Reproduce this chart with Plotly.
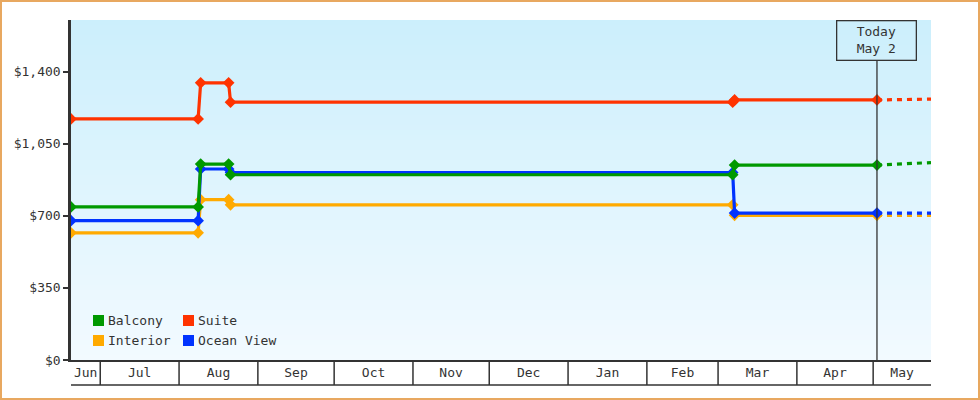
import pandas as pd
import plotly.graph_objects as go

# price history (cabin price per person)
dates = ["2024-06-19 12:00", "2024-08-08 12:00", "2024-08-09 12:00", "2024-08-20 12:00",
         "2024-08-21 06:00", "2025-03-06 18:00", "2025-03-07 12:00", "2025-05-02 12:00"]
balcony = [743, 743, 951, 951, 899, 899, 946, 946]
suite = [1170, 1170, 1345, 1345, 1251, 1251, 1262, 1262]
interior = [617, 617, 778, 778, 753, 753, 702, 702]
ocean_view = [676, 676, 927, 927, 910, 910, 713, 713]

# projected prices after today
proj_dates = ["2025-05-02 12:00", "2025-05-23 18:00"]
balcony_proj = [946, 958]
suite_proj = [1262, 1266]
interior_proj = [702, 702]
ocean_view_proj = [713, 713]

today = "2025-05-02 12:00"
today_label = "Today<br>May 2"
month_labels = ["Jun", "Jul", "Aug", "Sep", "Oct", "Nov", "Dec", "Jan", "Feb", "Mar", "Apr", "May"]
y_ticks = [0, 350, 700, 1050, 1400]
y_tick_labels = ["$0", "$350", "$700", "$1,050", "$1,400"]

x_start = pd.Timestamp(dates[0])
x_end = pd.Timestamp(proj_dates[-1])

FONT = "DejaVu Sans Mono"
INK = "#333333"
W, H = 980, 400
ML, MR, MT, MB = 71, 49, 20, 40
PW, PH = W - ML - MR, H - MT - MB

series = [
    ("Interior", interior, interior_proj, "#ffaa00"),
    ("Ocean View", ocean_view, ocean_view_proj, "#0033ff"),
    ("Balcony", balcony, balcony_proj, "#009900"),
    ("Suite", suite, suite_proj, "#ff3300"),
]

fig = go.Figure()

for name, vals, proj, color in series:
    fig.add_trace(go.Scatter(
        x=dates, y=vals, mode="lines+markers", name=name,
        line=dict(color=color, width=3.2),
        marker=dict(color=color, size=9, symbol="diamond"),
        showlegend=False, hoverinfo="x+y+name",
    ))
    fig.add_trace(go.Scatter(
        x=proj_dates, y=proj, mode="lines", name=name + " (projected)",
        line=dict(color=color, width=3.2, dash="5px,5px"),
        showlegend=False, hoverinfo="skip",
    ))

shapes = []

# vertical gradient background, light blue at top fading to near white
top_rgb = (204, 239, 252)
bot_rgb = (242, 250, 255)
n_bands = 68
for i in range(n_bands):
    t = i / (n_bands - 1)
    c = tuple(round(top_rgb[k] + (bot_rgb[k] - top_rgb[k]) * t) for k in range(3))
    shapes.append(dict(
        type="rect", xref="paper", yref="paper", layer="below",
        x0=0, x1=1, y0=1 - (i + 1) / n_bands, y1=1 - i / n_bands,
        fillcolor="rgb(%d,%d,%d)" % c, line=dict(width=0),
    ))

# month boxes under the x axis
box_h = 25 / PH
month_starts = pd.date_range(x_start.normalize() + pd.offsets.MonthBegin(1), x_end, freq="MS")
for ms in month_starts:
    shapes.append(dict(type="line", xref="x", yref="paper", x0=ms, x1=ms, y0=0, y1=-box_h,
                       line=dict(color=INK, width=1.5)))
shapes.append(dict(type="line", xref="paper", yref="paper", x0=0, x1=1, y0=-box_h, y1=-box_h,
                   line=dict(color=INK, width=1.5)))

edges = [x_start] + list(month_starts) + [x_end]
mids = [a + (b - a) / 2 for a, b in zip(edges[:-1], edges[1:])]

# today marker line
box_bottom = 1 - 40 / PH
shapes.append(dict(type="line", xref="x", yref="paper", x0=today, x1=today, y0=0, y1=box_bottom,
                   line=dict(color=INK, width=1.3)))

# outer frame, kept one pixel inside the page edge
shapes.append(dict(type="rect", xref="paper", yref="paper",
                   x0=(1 - ML) / PW, x1=(W - 1 - ML) / PW,
                   y0=(MT + PH - (H - 1)) / PH, y1=(MT + PH - 1) / PH,
                   line=dict(color="#e8a860", width=2)))

annotations = [dict(
    x=today, y=1, xref="x", yref="paper", xanchor="center", yanchor="top",
    text=today_label, showarrow=False, align="center",
    font=dict(family=FONT, size=13, color=INK),
    bordercolor=INK, borderwidth=1.3, borderpad=0, width=78, height=38,
)]

# legend drawn as squares + labels (two columns)
legend_items = [("Balcony", "#009900"), ("Suite", "#ff3300"),
                ("Interior", "#ffaa00"), ("Ocean View", "#0033ff")]
for i, (name, color) in enumerate(legend_items):
    col, row = i % 2, i // 2
    px = 93 + col * 90
    py = 320.5 + row * 20
    x0 = (px - ML) / PW
    yc = (MT + PH - py) / PH
    shapes.append(dict(type="rect", xref="paper", yref="paper",
                       x0=x0, x1=x0 + 11 / PW, y0=yc - 5.5 / PH, y1=yc + 5.5 / PH,
                       fillcolor=color, line=dict(width=0)))
    annotations.append(dict(x=x0 + 13 / PW, y=yc, xref="paper", yref="paper",
                            xanchor="left", yanchor="middle", text=name, showarrow=False,
                            font=dict(family=FONT, size=13, color=INK)))

fig.update_layout(
    width=W, height=H,
    margin=dict(l=ML, r=MR, t=MT, b=MB),
    paper_bgcolor="white",
    plot_bgcolor="white",
    showlegend=False,
    font=dict(family=FONT, size=13, color=INK),
    shapes=shapes,
    annotations=annotations,
    xaxis=dict(
        type="date", range=[x_start, x_end],
        tickvals=mids, ticktext=month_labels, ticks="",
        showgrid=False, zeroline=False,
        showline=True, linecolor=INK, linewidth=1.5,
        tickfont=dict(family=FONT, size=13, color=INK),
    ),
    yaxis=dict(
        range=[0, 1650], tickvals=y_ticks, ticktext=y_tick_labels,
        ticks="outside", ticklen=5, tickwidth=2, tickcolor=INK,
        showgrid=False, zeroline=False,
        showline=True, linecolor=INK, linewidth=2.5,
        tickfont=dict(family=FONT, size=13, color=INK),
    ),
)

fig.write_html("out.html", config={"displayModeBar": False},
               post_script="document.body.style.margin = '0';")
